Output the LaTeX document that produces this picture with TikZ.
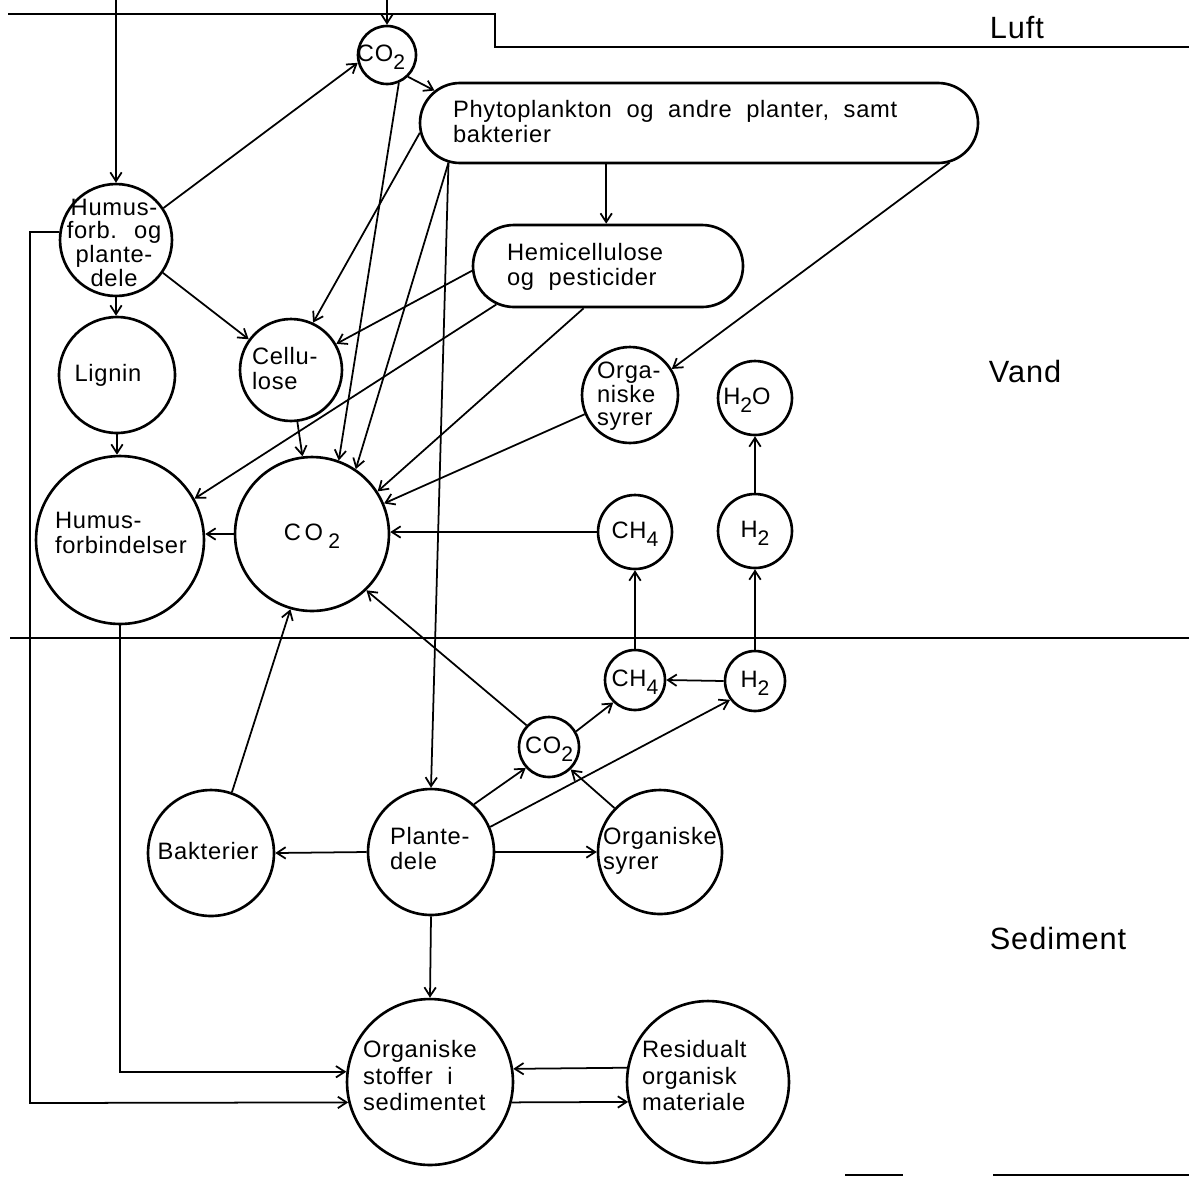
\documentclass[tikz,border=0pt]{standalone}
\usepackage{fontspec}
\setmainfont{Liberation Sans}[LetterSpace=3,WordSpace=2]
\usetikzlibrary{arrows.meta,shapes.misc,calc}
\newdimen\pxu \pxu=0.569pt
\newcommand{\ctx}[4][c]{\smash{\makebox[0pt]{\hspace*{#2\pxu}\hspace*{#2\pxu}\raisebox{\dimexpr#3\pxu-4.6pt\relax}{\begin{tabular}{@{}#1@{}}#4\end{tabular}}}}}
\newcommand{\ltx}[3]{\smash{\makebox[0pt][l]{\hspace*{#1\pxu}\raisebox{\dimexpr#2\pxu-4.6pt\relax}{\begin{tabular}{@{}l@{}}#3\end{tabular}}}}}
\newcommand{\lsub}[1]{\raisebox{-0.35em}{\fontsize{12}{12}\selectfont #1}}
\tikzset{
 circ/.style={circle, draw, line width=1.5pt, inner sep=0pt, minimum size=#1*0.04cm},
 pill/.style 2 args={rounded rectangle, draw, line width=1.5pt, inner sep=0pt, minimum width=#1*0.02cm, minimum height=#2*0.02cm},
 arr/.style={line width=1pt, -{Straight Barb[length=5pt,width=6.5pt,line width=1pt]}},
 border/.style={line width=1pt},
 region/.style={font=\fontsize{17.5}{17.5}\selectfont, inner sep=0pt},
}
\begin{document}
\begin{tikzpicture}[x=0.02cm, y=-0.02cm, font=\fontsize{13.5}{14.5}\selectfont]
\fill[white] (0,0) rectangle (1189,1177);
\useasboundingbox (0,0) rectangle (1189,1177);

% boundaries
\draw[border] (8,14) -- (495,14) -- (495,47) -- (1189,47);
\draw[border] (10,638) -- (1189,638);
\draw[line width=0.8pt] (845,1175) -- (903,1175);
\draw[line width=0.8pt] (993,1175) -- (1189,1175);

% region labels
\node[region] (luft) at (1017,28) {Luft};
\node[region] (vand) at (1025,372) {Vand};
\node[region] (sed) at (1058,938) {Sediment};

% nodes
\node[circ=29] (co2a) at (387,55) {\ctx{-6}{0}{CO\lsub{2}}};
\node[pill={558}{80}] (phy) at (699,123) {\ltx{-246}{0}{Phytoplankton og andre planter, samt\\bakterier}};
\node[circ=56] (hfp) at (116,240) {\renewcommand\arraystretch{0.85}\ctx{-2}{-4}{Humus-\\forb. og\\plante-\\dele}};
\node[pill={270}{82}] (hemi) at (608,266) {\ltx{-101}{0}{Hemicellulose\\og pesticider}};
\node[circ=58] (lig) at (117,375) {\ctx{-9}{0}{Lignin}};
\node[circ=51] (cel) at (291,370) {\ltx{-39}{0}{Cellu-\\lose}};
\node[circ=48] (osw) at (630,395) {\renewcommand\arraystretch{0.9}\ltx{-33}{0}{Orga-\\niske\\syrer}};
\node[circ=37] (h2o) at (755,398) {\ctx{-8}{0}{H\lsub{2}O}};
\node[circ=84] (hum) at (120,540) {\ltx{-65}{6}{Humus-\\forbindelser}};
\node[circ=77] (co2b) at (312,534) {\ctx{0}{0}{C\hspace{2pt}O\hspace{3pt}\lsub{2}}};
\node[circ=37] (ch4a) at (635,532) {\ctx{0}{0}{CH\lsub{4}}};
\node[circ=37] (h2a) at (755,531) {\ctx{0}{0}{H\lsub{2}}};
\node[circ=30] (ch4b) at (635,680) {\ctx{0}{0}{CH\lsub{4}}};
\node[circ=30] (h2b) at (755,681) {\ctx{0}{0}{H\lsub{2}}};
\node[circ=30] (co2c) at (549,747) {\ctx{0}{0}{CO\lsub{2}}};
\node[circ=63] (bak) at (211,853) {\ctx{-3}{0}{Bakterier}};
\node[circ=63] (pla) at (431,852) {\ltx{-41}{2}{Plante-\\dele}};
\node[circ=62] (oss) at (660,852) {\ltx{-57}{2}{Organiske\\syrer}};
\node[circ=83] (ost) at (430,1082) {\renewcommand\arraystretch{1.05}\ltx{-67}{5}{Organiske\\stoffer i\\sedimentet}};
\node[circ=81] (res) at (708,1082) {\renewcommand\arraystretch{1.05}\ltx{-66}{5}{Residualt\\organisk\\materiale}};

\coordinate (t1) at (116,0);
\coordinate (t2) at (387,0);
\coordinate (lc) at (30,1103);

% connectors
\draw[arr] (t1) -- (hfp.north);
\draw[arr] (t2) -- (co2a.north);
\draw[arr] (hfp.34) -- (co2a.195);
\draw[arr] (co2a.-46) -- (phy.173.5);
\draw[arr] (co2a.-67) -- (co2b.70);
\draw[arr] (phy.182) -- (cel.65);
\draw[arr] (phy.204.7) -- (phy.204.7 |- hemi.north);
\draw[arr] (phy.-9.6) -- (osw.32);
\draw[arr] (phy.189.6) -- (pla.north);
\draw[arr] (phy.189.3) -- (co2b.56);
\draw[arr] (hemi.182.5) -- (cel.30);
\draw[arr] (hemi.199.5) -- (hum.29);
\draw[arr] (hemi.240.7) -- (co2b.33);
\draw[arr] (hfp.south) -- (hfp.south |- lig.north);
\draw[arr] (hfp.-35) -- (cel.144);
\draw[arr] (lig.south) -- (lig.south |- hum.north);
\draw[arr] (cel.-83.5) -- (co2b.97);
\draw[arr] (osw.203) -- (co2b.23);
\draw[arr] (co2b.west) -- (co2b.west -| hum.east);
\draw[arr] (ch4a.west) -- (ch4a.west -| co2b.east);
\draw[arr] (ch4b.north) -- (ch4a.south);
\draw[arr] (h2b.north) -- (h2a.south);
\draw[arr] (h2a.north) -- (h2o.south);
\draw[arr] (h2b.west) -- (ch4b.east);
\draw[arr] (co2c.30) -- (ch4b.226);
\draw[arr] (co2c.136) -- (co2b.-46);
\draw[arr] (pla.48) -- (co2c.222);
\draw[arr] (pla.23) -- (h2b.217);
\draw[arr] (oss.136) -- (co2c.-46);
\draw[arr] (pla.west) -- (bak.east);
\draw[arr] (pla.east) -- (oss.west);
\draw[arr] (bak.71.6) -- (co2b.-106);
\draw[arr] (pla.south) -- (ost.north);
\draw[arr] (hum.south) |- (ost.173.8);
\draw[arr] (hfp.172.8) -| (lc) -- (ost.194.7);
\draw[arr] (res.170.8) -- (ost.9);
\draw[arr] (ost.-14) -- (res.194.3);
\end{tikzpicture}
\end{document}
